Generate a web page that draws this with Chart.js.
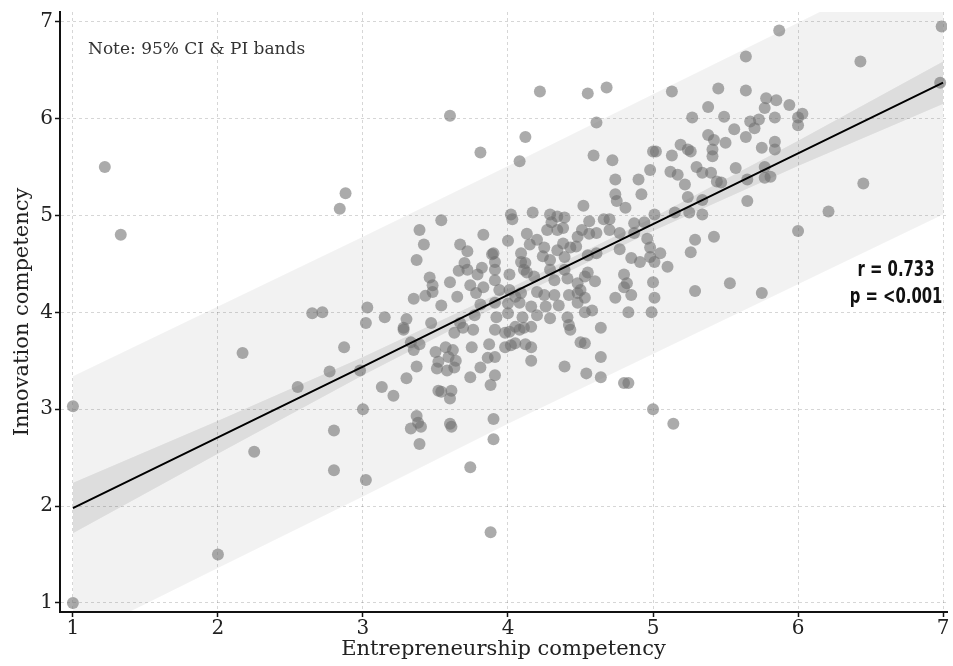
<!DOCTYPE html>
<html><head><meta charset="utf-8">
<script src="https://cdn.jsdelivr.net/npm/chart.js@4.4.1/dist/chart.umd.min.js"></script>
<style>html,body{margin:0;padding:0;background:#fff}canvas{display:block}</style>
</head><body>
<canvas id="c" width="953" height="666"></canvas>
<script>
const xTicks = [1, 2, 3, 4, 5, 6, 7];
const yTicks = [1, 2, 3, 4, 5, 6, 7];
const xTitle = 'Entrepreneurship competency';
const yTitle = 'Innovation competency';
const noteText = 'Note: 95% CI & PI bands';
const statR = 'r = 0.733';
const statP = 'p = <0.001';

// scatter points: [entrepreneurship, innovation]
const pts = [
[1.00,1.00],[1.00,3.03],[1.22,5.50],[1.33,4.80],[2.00,1.50],[2.17,3.58],[2.25,2.56],[2.55,3.23],
[2.65,3.99],[2.72,4.00],[2.77,3.39],[2.80,2.78],[2.80,2.37],[2.84,5.07],[2.88,5.23],[2.87,3.64],
[2.98,3.40],[3.00,3.00],[3.02,2.27],
[3.54,4.95],[3.39,4.85],[3.42,4.70],[3.37,4.54],[3.83,4.80],[3.67,4.70],[3.72,4.63],[3.89,4.60],
[3.70,4.51],[3.66,4.43],[3.72,4.44],[3.82,4.46],[3.79,4.39],[3.91,4.44],[3.46,4.36],[3.48,4.28],
[3.60,4.31],[3.74,4.28],[3.83,4.26],[3.48,4.21],[3.43,4.17],[3.35,4.14],[3.78,4.20],[3.65,4.16],
[3.54,4.07],[3.81,4.08],[3.77,3.97],[3.03,4.05],[3.15,3.95],[3.30,3.93],[3.02,3.89],[3.47,3.89],
[3.28,3.84],[3.67,3.89],
[4.74,5.37],[4.90,5.37],[4.74,5.22],[4.75,5.15],[4.92,5.22],[4.81,5.08],[4.52,5.10],[4.02,5.01],
[4.03,4.96],[4.17,5.03],[4.29,5.01],[4.34,4.99],[4.39,4.98],[4.30,4.93],[4.27,4.85],[4.34,4.85],
[4.38,4.87],[4.56,4.94],[4.51,4.85],[4.66,4.96],[4.70,4.96],[4.70,4.85],[4.61,4.82],[4.56,4.81],
[4.87,4.92],[4.94,4.93],[5.01,5.01],[4.87,4.82],[4.77,4.82],[4.96,4.76],[4.13,4.81],[4.15,4.70],
[4.20,4.75],[4.00,4.74],[4.25,4.67],[4.38,4.71],[4.48,4.78],[4.47,4.68],[4.43,4.67],[4.34,4.64],
[4.77,4.65],[4.85,4.56],[4.98,4.67],[4.98,4.57],[4.91,4.52],[5.01,4.52],[3.90,4.61],[3.91,4.52],
[4.09,4.61],[4.24,4.58],[4.29,4.54],[4.39,4.57],[4.55,4.59],[4.61,4.61],[4.09,4.52],[4.12,4.51],
[4.11,4.44],[4.13,4.41],[4.01,4.39],[3.91,4.33],[4.18,4.37],[4.29,4.44],[4.39,4.44],[4.32,4.33],
[4.41,4.35],[4.53,4.37],[4.55,4.41],[4.60,4.32],[4.48,4.30],[4.50,4.23],[4.80,4.39],[4.82,4.30],
[4.80,4.26],[4.85,4.18],[4.74,4.15],[5.00,4.31],[5.01,4.15],[3.94,4.23],[4.01,4.23],[4.05,4.16],
[4.09,4.20],[4.20,4.21],[4.25,4.18],[4.32,4.18],[4.42,4.18],[4.48,4.20],[4.53,4.15],[3.91,4.10],
[4.00,4.09],[4.08,4.10],[4.16,4.06],[4.26,4.06],[4.35,4.07],[4.48,4.10],[3.92,3.95],[4.00,3.99],
[4.10,3.95],[4.20,3.97],[4.29,3.94],[4.41,3.95],[4.53,4.00],[4.58,4.02],[4.83,4.00],[4.99,4.00],
[4.64,3.84],[4.42,3.87],[4.05,3.85],[4.16,3.85],
[3.28,3.82],[3.33,3.69],[3.35,3.61],[3.39,3.67],[3.37,3.44],[3.30,3.32],[3.13,3.23],[3.21,3.14],
[3.50,3.59],[3.57,3.64],[3.62,3.61],[3.52,3.49],[3.59,3.54],[3.64,3.50],[3.51,3.42],[3.58,3.40],
[3.63,3.43],[3.63,3.79],[3.69,3.84],[3.76,3.82],[3.75,3.64],[3.87,3.67],[3.91,3.82],[3.81,3.43],
[3.86,3.53],[3.91,3.54],[3.74,3.33],[3.88,3.25],[3.91,3.35],[3.52,3.19],[3.54,3.18],[3.61,3.19],
[3.60,3.11],[3.37,2.93],[3.38,2.86],[3.33,2.80],[3.40,2.82],[3.39,2.64],[3.60,2.85],[3.61,2.82],
[3.90,2.90],[3.90,2.69],[3.74,2.40],
[3.98,3.79],[4.01,3.80],[4.08,3.82],[4.11,3.84],[4.43,3.82],[3.98,3.64],[4.02,3.66],[4.05,3.68],
[4.12,3.67],[4.16,3.64],[4.50,3.69],[4.53,3.68],[4.16,3.50],[4.39,3.44],[4.54,3.37],[4.64,3.54],
[4.64,3.33],[4.80,3.27],[4.83,3.27],[5.00,3.00],[5.14,2.85],[3.88,1.73],
[5.87,6.91],[6.99,6.95],[6.43,6.59],[6.98,6.37],[5.64,6.64],[4.22,6.28],[4.55,6.26],[4.68,6.32],
[5.13,6.28],[5.45,6.31],[5.64,6.29],[4.61,5.96],[4.12,5.81],[3.81,5.65],[4.08,5.56],[4.59,5.62],
[4.72,5.57],[3.60,6.03],[5.38,6.12],[5.27,6.01],[5.49,6.02],[5.56,5.89],[5.64,5.81],[5.38,5.83],
[5.42,5.78],[5.50,5.75],[5.67,5.97],[5.70,5.90],[5.73,5.99],[5.77,6.11],[5.78,6.21],[5.85,6.19],
[5.94,6.14],[5.84,6.01],[6.00,6.01],[6.03,6.05],[6.00,5.93],[5.84,5.76],[5.84,5.68],[5.75,5.70],
[6.45,5.33],[6.21,5.04],[6.00,4.84],[5.81,5.40],[5.77,5.39],[5.65,5.37],[5.65,5.15],[5.57,5.49],
[5.44,5.35],[5.47,5.34],[5.41,5.61],[5.41,5.68],[5.19,5.73],[5.24,5.68],[5.26,5.66],[5.13,5.62],
[5.00,5.66],[5.02,5.66],[4.98,5.47],[5.17,5.42],[5.30,5.50],[5.34,5.44],[5.40,5.44],[5.22,5.32],
[5.24,5.19],[5.25,5.03],[5.34,5.01],[5.42,4.78],[5.05,4.61],[5.26,4.62],[5.29,4.75],[5.10,4.47],
[5.53,4.30],[5.75,4.20],[5.29,4.22],[5.15,5.03],[5.34,5.16],[5.77,5.50],[5.12,5.45]
];
const entX = pts.map(p => p[0]);
const innY = pts.map(p => p[1]);

// regression fit and bands read at x = 1..7
const bandX = [1, 2, 3, 4, 5, 6, 7];
const fitY  = [1.98, 2.71, 3.44, 4.18, 4.91, 5.64, 6.37];
const ciLow = [1.72, 2.54, 3.35, 4.12, 4.84, 5.51, 6.15];
const ciHigh= [2.24, 2.88, 3.54, 4.24, 4.98, 5.77, 6.59];
const piLow = [0.62, 1.36, 2.10, 2.85, 3.57, 4.29, 5.01];
const piHigh= [3.34, 4.06, 4.78, 5.51, 6.25, 6.99, 7.73];

const xy = (xa, ya) => xa.map((x, i) => ({x: x, y: ya[i]}));

const textPlugin = {
  id: 'txt',
  afterDraw(chart) {
    const {ctx, chartArea: a} = chart;
    ctx.save();
    ctx.fillStyle = '#333';
    ctx.font = '17px "DejaVu Serif"';
    ctx.textAlign = 'left';
    ctx.textBaseline = 'alphabetic';
    ctx.fillText(noteText, a.left + 28, a.top + 42);
    ctx.font = 'bold 22px "DejaVu Sans Condensed"';
    const s = 77 / ctx.measureText(statR).width;
    ctx.fillStyle = '#111';
    ctx.translate(a.right - 51, 0);
    ctx.scale(s, 1);
    ctx.textAlign = 'center';
    ctx.fillText(statR, 0, 276);
    ctx.fillText(statP, 0, 303);
    ctx.restore();
  }
};

const serif = '"DejaVu Serif", serif';
const gridCommon = {
  color: 'rgba(0,0,0,0.16)', lineWidth: 1, drawTicks: true,
  tickLength: 5, tickColor: '#111', tickWidth: 1.5, tickBorderDash: []
};

new Chart(document.getElementById('c'), {
  type: 'scatter',
  data: {
    datasets: [
      {type: 'line', data: xy(bandX, piHigh), borderWidth: 0, pointRadius: 0, fill: '+1',
       backgroundColor: 'rgba(0,0,0,0.05)', order: 4},
      {type: 'line', data: xy(bandX, piLow), borderWidth: 0, pointRadius: 0, fill: false, order: 4},
      {type: 'line', data: xy(bandX, ciHigh), borderWidth: 0, pointRadius: 0, fill: '+1',
       backgroundColor: 'rgba(0,0,0,0.09)', order: 3},
      {type: 'line', data: xy(bandX, ciLow), borderWidth: 0, pointRadius: 0, fill: false, order: 3},
      {data: xy(entX, innY), pointRadius: 6, pointBorderWidth: 0,
       backgroundColor: 'rgba(110,110,110,0.58)', borderColor: 'rgba(0,0,0,0)', order: 2},
      {type: 'line', data: xy(bandX, fitY), borderColor: '#000', borderWidth: 2, pointRadius: 0,
       fill: false, order: 1}
    ]
  },
  options: {
    responsive: false, animation: false, devicePixelRatio: 1,
    layout: {padding: {top: 12, right: 1, left: 0, bottom: 0}},
    plugins: {legend: {display: false}, tooltip: {enabled: false}},
    scales: {
      x: {
        type: 'linear', min: 0.911, max: 7.027,
        afterBuildTicks: s => { s.ticks = xTicks.map(v => ({value: v})); },
        afterFit: s => { s.height = 54; s.paddingLeft = 0; s.paddingRight = 0; },
        ticks: {color: '#222', font: {family: serif, size: 20}, padding: 0, maxRotation: 0,
                callback: v => String(v)},
        grid: gridCommon,
        border: {display: true, color: '#111', width: 2, dash: [3, 3]},
        title: {display: true, text: xTitle, color: '#222', font: {family: serif, size: 21},
                padding: {top: 0, bottom: 4}}
      },
      y: {
        type: 'linear', min: 0.907, max: 7.1,
        afterBuildTicks: s => { s.ticks = yTicks.map(v => ({value: v})); },
        afterFit: s => { s.width = 60; s.paddingTop = 0; s.paddingBottom = 0; },
        ticks: {color: '#222', font: {family: serif, size: 20}, padding: 2,
                callback: v => String(v)},
        grid: gridCommon,
        border: {display: true, color: '#111', width: 2, dash: [3, 3]},
        title: {display: true, text: yTitle, color: '#222', font: {family: serif, size: 21},
                padding: {top: 10, bottom: 0}}
      }
    }
  },
  plugins: [textPlugin]
});
</script>
</body></html>
